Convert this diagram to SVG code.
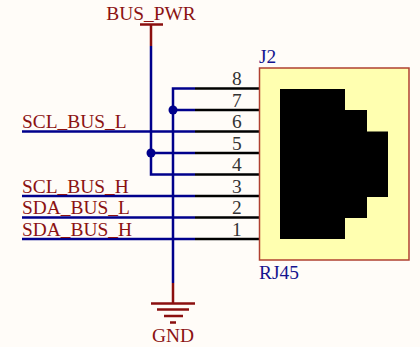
<svg xmlns="http://www.w3.org/2000/svg" width="420" height="347" viewBox="0 0 420 347">
<style>
text{font-family:"Liberation Serif","Times New Roman",serif;font-size:19.4px}
.net{fill:#8b1212}
.des{fill:#14148f}
.num{fill:#333333}
.w{fill:none;stroke:#00008c;stroke-width:2.5}
.p{fill:none;stroke:#000000;stroke-width:2.5}
.r{fill:none;stroke:#8b0f0f;stroke-width:2.5}
.j{fill:#00008c}
</style>
<rect width="420" height="347" fill="#fffcf8"/>
<g id="connectors">
<path class="r" d="M151 24.500V46M173 283V303"/>
<path class="w" d="M151 46V174.500H195M173 283V88.500H195M22 131.500H195M173 110H195M151 153H195M22 196H195M22 217.500H195M22 239H195"/>
<path class="p" d="M195 88.500H259.500M195 110H259.500M195 131.500H259.500M195 153H259.500M195 174.500H259.500M195 196H259.500M195 217.500H259.500M195 239H259.500"/>
<circle class="j" cx="173" cy="110" r="4.500"/>
<circle class="j" cx="151" cy="153" r="4.500"/>
</g>
<g id="J2">
<rect x="259.500" y="68" width="149.500" height="192" fill="#ffffb0" stroke="#b04030" stroke-width="1.500"/>
<path fill="#000000" d="M280 89H345V110H367V131.500H388V197H367V218H345V239H280Z"/>
<text class="des" x="259" y="63">J2</text>
<text class="des" x="259" y="279">RJ45</text>
<text class="num" x="232" y="85">8</text>
<text class="num" x="232" y="106.500">7</text>
<text class="num" x="232" y="128">6</text>
<text class="num" x="232" y="149.500">5</text>
<text class="num" x="232" y="171">4</text>
<text class="num" x="232" y="192.500">3</text>
<text class="num" x="232" y="214">2</text>
<text class="num" x="232" y="235.500">1</text>
</g>
<g id="BUS_PWR">
<path class="r" d="M140 24.500H163"/>
<text class="net" x="151" y="20" text-anchor="middle">BUS_PWR</text>
</g>
<g id="GND">
<path class="r" d="M151 303.500H195M157 309.500H189M164 316H183M170 322.500H176"/>
<text class="net" x="173" y="342" text-anchor="middle">GND</text>
</g>
<g id="SCL_BUS_L"><text class="net" x="22" y="128">SCL_BUS_L</text></g>
<g id="SCL_BUS_H"><text class="net" x="22" y="192.500">SCL_BUS_H</text></g>
<g id="SDA_BUS_L"><text class="net" x="22" y="214">SDA_BUS_L</text></g>
<g id="SDA_BUS_H"><text class="net" x="22" y="235.500">SDA_BUS_H</text></g>
</svg>
